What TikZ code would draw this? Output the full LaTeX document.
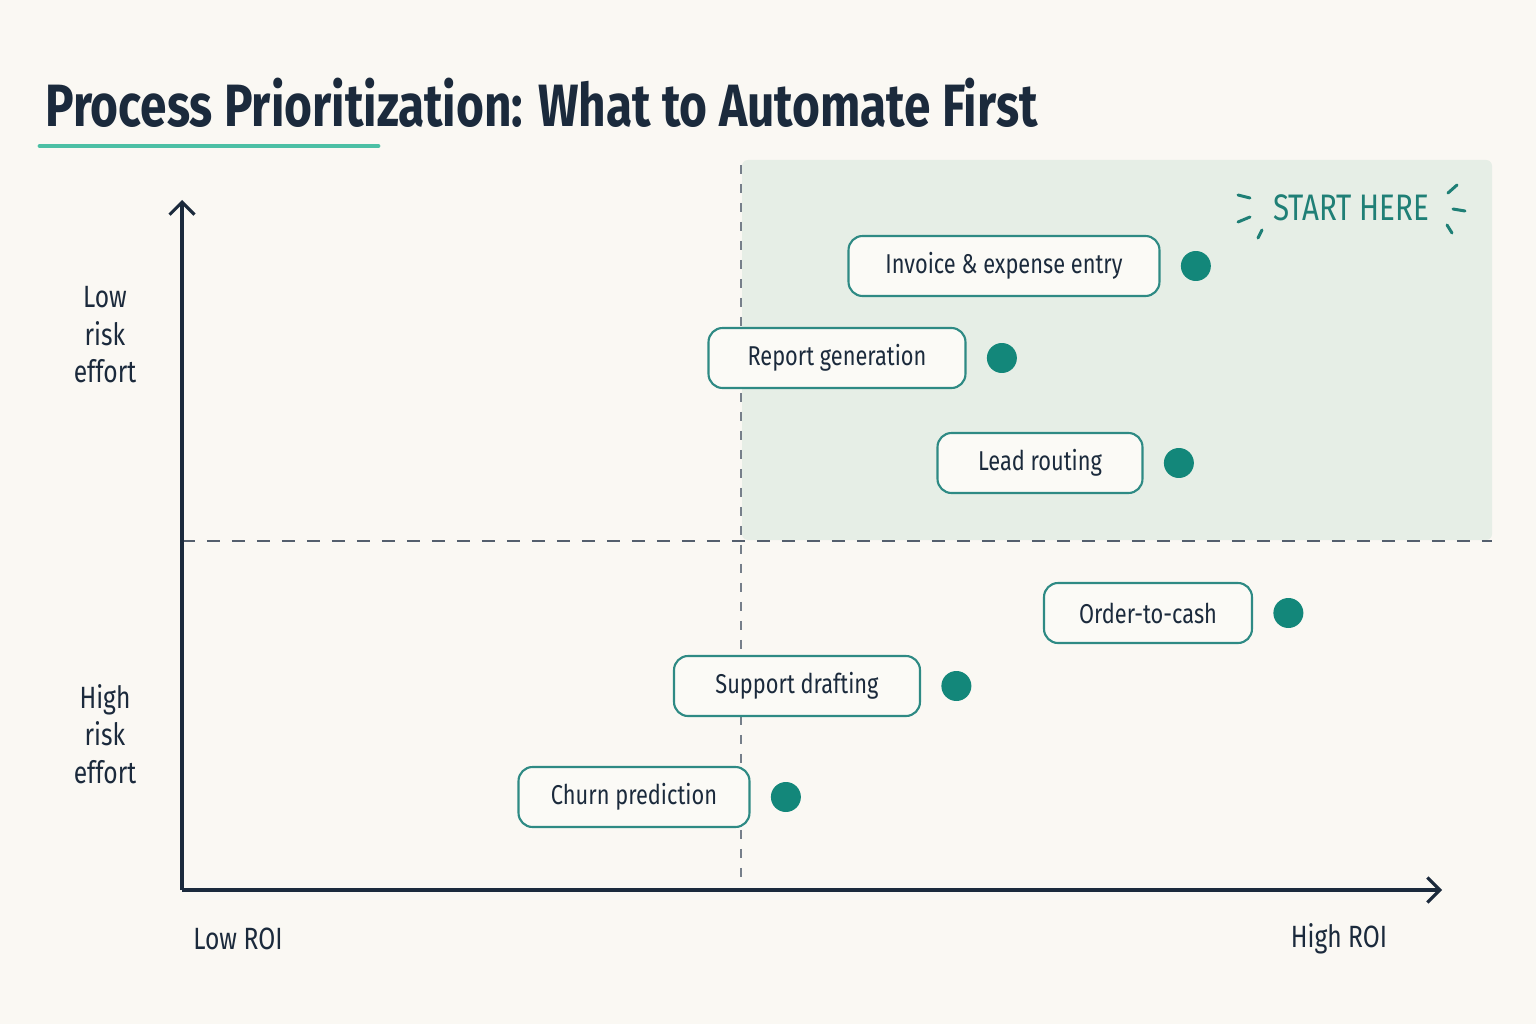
\documentclass[tikz,border=0pt]{standalone}
\usepackage{fontspec}
\setmainfont{Fira Sans}[FakeStretch=0.8]
\usetikzlibrary{arrows.meta, positioning}

\definecolor{paper}{HTML}{FAF8F3}
\definecolor{zone}{HTML}{E6EEE6}
\definecolor{ink}{HTML}{1B2A3C}
\definecolor{teal}{HTML}{13877A}
\definecolor{tealtext}{HTML}{1F7F76}
\definecolor{boxline}{HTML}{2E8A84}
\definecolor{boxfill}{HTML}{FBFAF6}
\definecolor{underline}{HTML}{4CC0A5}

\begin{document}
\begin{tikzpicture}[x=0.02cm, y=-0.02cm,
  task/.style={draw=boxline, line width=1.2pt, fill=boxfill, rounded corners=0.28cm,
    minimum height=1.2cm, text=ink, font=\fontsize{15.5}{18}\selectfont},
  dot/.style={circle, fill=teal, minimum size=0.6cm, inner sep=0pt},
  axis/.style={draw=ink, line width=1.8pt, -{Straight Barb[length=0.25cm, width=0.5cm]}},
  divider/.style={draw=ink!75, line width=0.8pt, dash pattern=on 0.26cm off 0.24cm},
  side/.style={align=center, text=ink, font=\fontsize{17.5}{21.3}\selectfont}]
  % ----- Canvas -----
  \useasboundingbox (0,0) rectangle (1536,1024);
  \fill[paper] (0,0) rectangle (1536,1024);

  % ----- Title -----
  \node[anchor=west, inner xsep=0pt, text=ink, font=\fontsize{34}{40}\selectfont\bfseries] (title) at (45,103)
    {Process Prioritization: What to Automate First};
  \draw[underline, line width=2.8pt, line cap=round] (40,146) -- (378,146);

  % ----- Quick-win zone (high ROI, low risk) -----
  \fill[zone, rounded corners=0.12cm] (742,160) rectangle (1492,540);

  % ----- Quadrant dividers -----
  \coordinate (hleft) at (182,541);
  \coordinate (hright) at (1492,541);
  \coordinate (vtop) at (741,165);
  \coordinate (vbottom) at (741,880);
  \draw[divider] (hleft) -- (hright);
  \draw[divider, draw=ink!60, dash pattern=on 0.18cm off 0.2cm] (vtop) -- (vbottom);

  % ----- Axes -----
  \coordinate (origin) at (182,890);
  \coordinate (ytip) at (182,200);
  \coordinate (xtip) at (1442,890);
  \draw[axis] (origin) -- (ytip);
  \draw[axis] (origin) -- (xtip);

  \node[side] (lowrisk) at (105,335) {Low\\risk\\effort};
  \node[side] (highrisk) at (105,734) {High\\risk\\effort};
  \node[side] (lowroi) at (238,939) {Low ROI};
  \node[side] (highroi) at (1339,939) {High ROI};

  % ----- Start marker -----
  \node[text=tealtext, font=\fontsize{21}{24}\selectfont] (start) at (1351,208) {START HERE};
  \begin{scope}[draw=tealtext, line width=1.7pt, line cap=round]
    \draw (1238,195) -- (1250,198);
    \draw (1238,222) -- (1250,217);
    \draw (1262,230) -- (1258,238);
    \draw (1457,185) -- (1448,193);
    \draw (1453,209) -- (1465,211);
    \draw (1447,225) -- (1452,233);
  \end{scope}

  % ----- Processes -----
  \node[task, minimum width=6.22cm] (invoice) at (1004,266) {Invoice \& expense entry};
  \node[task, minimum width=5.14cm] (report) at (837,358) {Report generation};
  \node[task, minimum width=4.10cm] (lead) at (1040,463) {Lead routing};
  \node[task, minimum width=4.16cm] (order) at (1148,613) {Order-to-cash};
  \node[task, minimum width=4.92cm] (support) at (797,686) {Support drafting};
  \node[task, minimum width=4.62cm] (churn) at (634,797) {Churn prediction};

  \node[dot, right=0.4cm of invoice] (invoice-dot) {};
  \node[dot, right=0.4cm of report] (report-dot) {};
  \node[dot, right=0.4cm of lead] (lead-dot) {};
  \node[dot, right=0.4cm of order] (order-dot) {};
  \node[dot, right=0.4cm of support] (support-dot) {};
  \node[dot, right=0.4cm of churn] (churn-dot) {};
\end{tikzpicture}
\end{document}
